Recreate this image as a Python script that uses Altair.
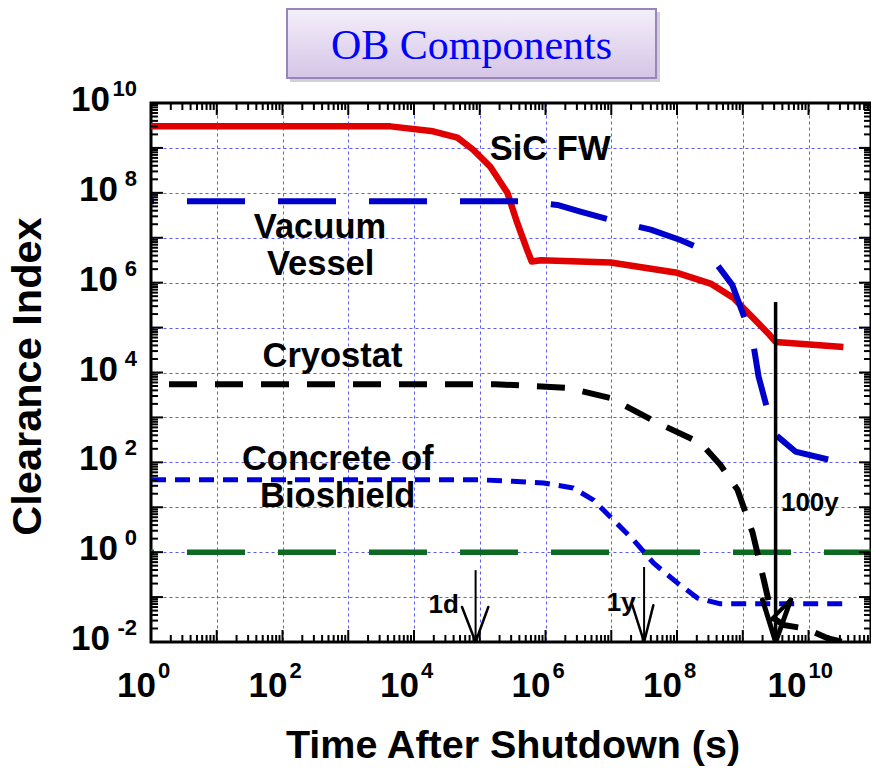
import altair as alt
import pandas as pd

W, H = 720, 539
X_MAX = 10 ** 10.95

# ---------------- data: log10(time [s]) and log10(clearance index)
sic_log_t = [0, 3.64, 4.29, 4.66, 4.90, 5.16, 5.42, 5.57, 5.72, 5.79, 5.93, 6.99, 8.00, 8.51, 8.86, 9.38, 9.50, 10.53]
sic_log_ci = [9.48, 9.48, 9.37, 9.23, 8.96, 8.58, 8.00, 7.33, 6.73, 6.47, 6.50, 6.45, 6.22, 5.98, 5.66, 4.88, 4.68, 4.57]

vv_log_t = [0, 5.66, 6.18, 6.53, 7.03, 7.60, 8.05, 8.46, 8.84, 9.15, 9.24, 9.47, 9.80, 10.53]
vv_log_ci = [7.81, 7.81, 7.73, 7.58, 7.38, 7.18, 6.95, 6.69, 5.95, 4.73, 3.91, 2.65, 2.24, 1.98]

cr_log_t = [0, 5.24, 6.33, 6.99, 7.70, 8.36, 8.66, 8.92, 9.15, 9.32, 9.45, 9.62, 9.95, 10.30, 10.53]
cr_log_ci = [3.74, 3.74, 3.66, 3.43, 2.88, 2.43, 1.94, 1.39, 0.43, -0.62, -1.45, -1.62, -1.70, -1.92, -2.00]

cb_log_t = [0, 5.01, 5.50, 5.97, 6.42, 6.73, 7.03, 7.34, 7.64, 8.01, 8.31, 8.66, 10.53]
cb_log_ci = [1.61, 1.61, 1.58, 1.54, 1.43, 1.16, 0.72, 0.27, -0.24, -0.69, -1.02, -1.15, -1.15]

lim_log_t = [0, 10.95]
lim_log_ci = [0, 0]

label_text = ["SiC FW", "Vacuum", "Vessel", "Cryostat", "Concrete of", "Bioshield"]
label_log_t = [6.07, 2.57, 2.58, 2.76, 2.84, 2.84]
label_log_ci = [8.95, 7.22, 6.39, 4.34, 2.05, 1.23]

mark_text_ = ["1d", "1y", "100y"]
mark_log_t = [4.45, 7.15, 10.02]
mark_log_ci = [-1.18, -1.13, 1.09]

# arrows: shaft (time, top) and head arms (log t, log ci of the arm ends)
arrow_t = [86400, 3.156e7, 3.156e9]
arrow_top_log_ci = [-0.40, -0.33, 5.57]
arm_left_log_t = [4.73, 7.32, 9.30]
arm_right_log_t = [5.13, 7.64, 9.73]
arm_log_ci = [-1.22, -1.18, -1.06]

x_tick_exp = ["0", "2", "4", "6", "8", "10"]
y_tick_exp = ["-2", "0", "2", "4", "6", "8", "10"]

title_text = "OB Components"


def series(name, lt, lc):
    return pd.DataFrame({"series": name, "t": [10 ** v for v in lt], "ci": [10 ** v for v in lc]})


df = pd.concat([
    series("SiC FW", sic_log_t, sic_log_ci),
    series("Vacuum Vessel", vv_log_t, vv_log_ci),
    series("Cryostat", cr_log_t, cr_log_ci),
    series("Concrete", cb_log_t, cb_log_ci),
    series("Limit", lim_log_t, lim_log_ci),
], ignore_index=True)

xscale = alt.Scale(type="log", domain=[1, X_MAX], nice=False)
yscale = alt.Scale(type="log", domain=[1e-2, 1e10], nice=False)
grid_kw = dict(grid=True, gridColor="#3333ee", gridDash=[3, 3], gridWidth=1, gridOpacity=0.8,
               labels=False, ticks=False, domain=False, title=None)
X = alt.X("t:Q", scale=xscale, axis=alt.Axis(values=[10 ** k for k in range(1, 11)], **grid_kw))
Y = alt.Y("ci:Q", scale=yscale, axis=alt.Axis(values=[10 ** k for k in range(-1, 10)], **grid_kw))

FONT = "Liberation Sans"


def line(name, color, width, dash=None, offset=None):
    kw = dict(color=color, strokeWidth=width, clip=True, strokeCap="butt", strokeJoin="round")
    if dash is not None:
        kw["strokeDash"] = dash
    if offset is not None:
        kw["strokeDashOffset"] = offset
    return alt.Chart(df).transform_filter(alt.datum.series == name).mark_line(**kw).encode(x=X, y=Y)


layers = [
    line("Limit", "#0d6a23", 5.5, [58, 33], 55),
    line("Concrete", "#0000dd", 5, [15, 9]),
    line("Cryostat", "#000000", 6, [28, 18], 28),
    line("SiC FW", "#e00000", 6.5),
    line("Vacuum Vessel", "#0000cc", 6, [58, 33], 55),
]

# ---- inward ticks on all four sides
xt_major = [10 ** k for k in range(0, 11)]
xt_minor = [m * 10 ** k for k in range(0, 11) for m in range(2, 10) if m * 10 ** k < X_MAX]
yt_major = [10 ** k for k in range(-2, 11)]
yt_minor = [m * 10 ** k for k in range(-2, 10) for m in range(2, 10)]

for vals, L in ((xt_major, 12), (xt_minor, 7)):
    d = pd.DataFrame({"t": vals})
    for y0, y1 in ((H, H - L), (0, L)):
        layers.append(alt.Chart(d).mark_rule(color="black", strokeWidth=2).encode(
            x=X, y=alt.value(y0), y2=alt.value(y1)))
for vals, L in ((yt_major, 12), (yt_minor, 7)):
    d = pd.DataFrame({"ci": vals})
    for x0, x1 in ((0, L), (W, W - L)):
        layers.append(alt.Chart(d).mark_rule(color="black", strokeWidth=2).encode(
            y=Y, x=alt.value(x0), x2=alt.value(x1)))

# ---- arrows
n = len(arrow_t)
shaft = pd.DataFrame({"t": arrow_t, "ci": [1e-2] * n, "ci2": [10 ** v for v in arrow_top_log_ci],
                      "w": ["thin", "thin", "thick"]})
arms = pd.DataFrame({
    "t": [10 ** v for v in arm_left_log_t] + [10 ** v for v in arm_right_log_t],
    "t2": arrow_t + arrow_t,
    "ci": [10 ** v for v in arm_log_ci] * 2,
    "ci2": [1e-2] * (2 * n),
    "w": ["thin", "thin", "thick"] * 2,
})
# inner stroke of the big (100y) arrow head
inner = pd.DataFrame({"t": [10 ** 9.73], "t2": [10 ** 9.40], "ci": [10 ** -1.06], "ci2": [10 ** -1.55]})

for w, sw_s, sw_a in (("thin", 2, 2.5), ("thick", 3.5, 5)):
    layers.append(alt.Chart(shaft).transform_filter(alt.datum.w == w).mark_rule(
        color="black", strokeWidth=sw_s, clip=True).encode(x=X, y=Y, y2="ci2:Q"))
    layers.append(alt.Chart(arms).transform_filter(alt.datum.w == w).mark_rule(
        color="black", strokeWidth=sw_a, clip=True, strokeCap="round").encode(x=X, x2="t2:Q", y=Y, y2="ci2:Q"))
layers.append(alt.Chart(inner).mark_rule(color="black", strokeWidth=4, clip=True).encode(
    x=X, x2="t2:Q", y=Y, y2="ci2:Q"))

# ---- in-plot labels
lab = pd.DataFrame({"txt": label_text, "t": [10 ** v for v in label_log_t], "ci": [10 ** v for v in label_log_ci]})
layers.append(alt.Chart(lab).mark_text(font=FONT, fontSize=34.5, fontWeight="bold", color="black",
                                       baseline="middle").encode(x=X, y=Y, text="txt:N"))
mk = pd.DataFrame({"txt": mark_text_, "t": [10 ** v for v in mark_log_t], "ci": [10 ** v for v in mark_log_ci]})
layers.append(alt.Chart(mk).mark_text(font=FONT, fontSize=26, fontWeight="bold", color="black",
                                      baseline="middle").encode(x=X, y=Y, text="txt:N"))

# ---- tick labels (10 with superscript exponent)
xl = pd.DataFrame({"t": [10 ** int(e) for e in x_tick_exp], "exp": x_tick_exp})
yl = pd.DataFrame({"ci": [10.0 ** int(e) for e in y_tick_exp], "exp": y_tick_exp})
BASE_FS, EXP_FS = 35, 22
for cond, dxb, dxe in (("length(datum.exp) == 1", 5, 7), ("length(datum.exp) == 2", -2, 0)):
    layers.append(alt.Chart(xl).transform_filter(cond).mark_text(
        font=FONT, fontSize=BASE_FS, fontWeight="bold", align="right", baseline="middle", dx=dxb,
        text="10").encode(x=X, y=alt.value(H + 44)))
    layers.append(alt.Chart(xl).transform_filter(cond).mark_text(
        font=FONT, fontSize=EXP_FS, fontWeight="bold", align="left", baseline="middle", dx=dxe).encode(
        x=X, y=alt.value(H + 29), text="exp:N"))
for cond, xb in (("length(datum.exp) == 1", -33), ("length(datum.exp) == 2", -41)):
    layers.append(alt.Chart(yl).transform_filter(cond).mark_text(
        font=FONT, fontSize=BASE_FS, fontWeight="bold", align="right", baseline="middle", dy=-3,
        text="10").encode(y=Y, x=alt.value(xb)))
    layers.append(alt.Chart(yl).transform_filter(cond).mark_text(
        font=FONT, fontSize=EXP_FS, fontWeight="bold", align="right", baseline="middle", dy=-14).encode(
        y=Y, x=alt.value(-14), text="exp:N"))

# ---- axis titles
tdf = pd.DataFrame({"label": [title_text], "xt": ["Time After Shutdown (s)"], "yt": ["Clearance Index"]})
layers.append(alt.Chart(tdf).mark_text(font=FONT, fontSize=39.5, fontWeight="bold", baseline="middle").encode(
    x=alt.value(W / 2 + 2), y=alt.value(H + 104), text="xt:N"))
layers.append(alt.Chart(tdf).mark_text(font=FONT, fontSize=41.5, fontWeight="bold", baseline="middle",
                                       angle=270).encode(
    x=alt.value(-122), y=alt.value(H / 2 + 4), text="yt:N"))

# ---- title box
layers.append(alt.Chart(tdf).mark_rect(color="#7a7a7a", opacity=0.35).encode(
    x=alt.value(139), x2=alt.value(509), y=alt.value(-91), y2=alt.value(-21)))
layers.append(alt.Chart(tdf).mark_rect(
    fill=alt.LinearGradient(gradient="linear", x1=0, x2=0, y1=0, y2=1,
                            stops=[alt.GradientStop(color="#f4effa", offset=0),
                                   alt.GradientStop(color="#d5c5e7", offset=1)]),
    stroke="#9a84bc", strokeWidth=2).encode(
    x=alt.value(136), x2=alt.value(505), y=alt.value(-94), y2=alt.value(-25)))
layers.append(alt.Chart(tdf).mark_text(font="Liberation Serif", fontSize=42, color="#0000ff",
                                       baseline="middle").encode(
    x=alt.value(320.5), y=alt.value(-57), text="label:N"))

chart = alt.layer(*layers).properties(
    width=W, height=H,
    autosize=alt.AutoSizeParams(type="none"),
    padding={"left": 151, "top": 103, "right": 0, "bottom": 131},
    background="white",
).configure_view(stroke="black", strokeWidth=3)

chart.save("out.html", embed_options={"renderer": "svg", "actions": False})
